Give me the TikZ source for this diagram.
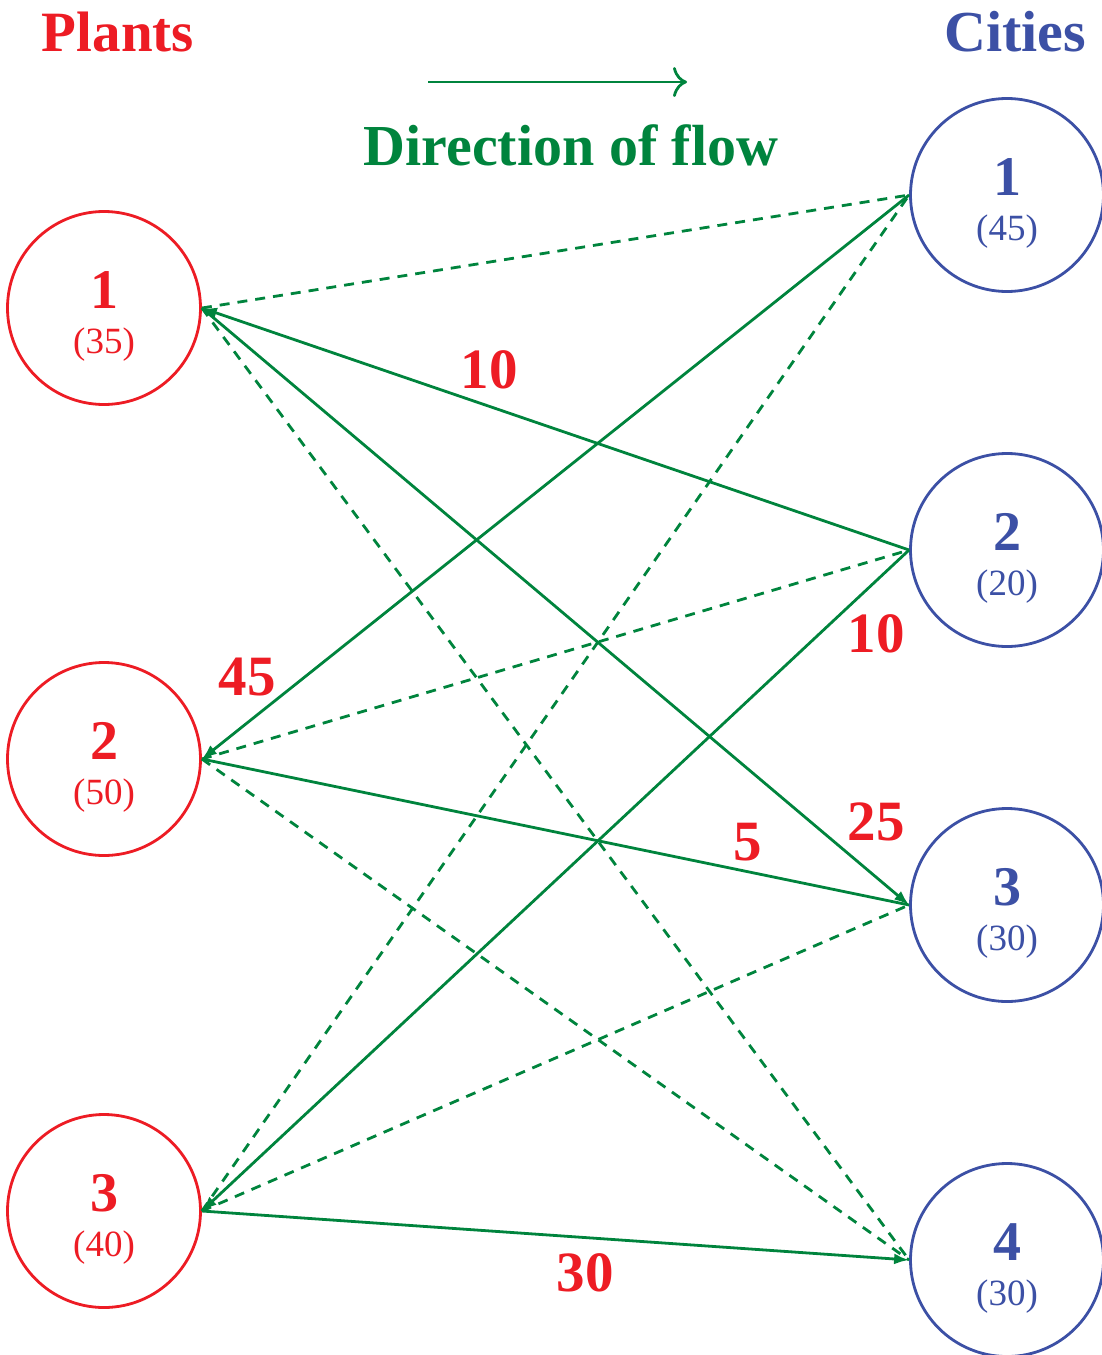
\documentclass[tikz,border=0pt]{standalone}
\usepackage{fontspec}
\setmainfont{Liberation Serif}
\usetikzlibrary{arrows.meta}
\definecolor{pred}{RGB}{237,28,36}
\definecolor{cblue}{RGB}{60,80,165}
\definecolor{fgreen}{RGB}{0,132,61}
\begin{document}
\begin{tikzpicture}[x=1pt,y=-1pt,
  plant/.style={circle,draw=pred,line width=2.8pt,minimum size=193pt,inner sep=0pt},
  city/.style={circle,draw=cblue,line width=2.8pt,minimum size=193pt,inner sep=0pt},
  num/.style={font=\bfseries\fontsize{56}{56}\selectfont},
  captxt/.style={font=\fontsize{37}{37}\selectfont},
  flow/.style={draw=fgreen,line width=2.8pt},
  dflow/.style={draw=fgreen,line width=2.8pt,dash pattern=on 10pt off 8pt},
  tip/.style={-{Latex[length=15pt,width=11pt]}},
  qty/.style={text=pred,font=\bfseries\fontsize{57}{57}\selectfont}]
\useasboundingbox (0,0) rectangle (1101,1355);
% plants
\node[plant] (p1) at (104,308) {};
\node[plant] (p2) at (104,759) {};
\node[plant] (p3) at (104,1211) {};
% cities
\node[city] (c1) at (1007,195) {};
\node[city] (c2) at (1007,550) {};
\node[city] (c3) at (1007,905) {};
\node[city] (c4) at (1007,1260) {};
% node texts
\node[num,text=pred] (p1n) at (104,290) {1};
\node[num,text=pred] (p2n) at (104,741) {2};
\node[num,text=pred] (p3n) at (104,1193) {3};
\node[captxt,text=pred] (p1c) at (104,345) {(35)};
\node[captxt,text=pred] (p2c) at (104,796) {(50)};
\node[captxt,text=pred] (p3c) at (104,1248) {(40)};
\node[num,text=cblue] (c1n) at (1007,177) {1};
\node[num,text=cblue] (c2n) at (1007,532) {2};
\node[num,text=cblue] (c3n) at (1007,887) {3};
\node[num,text=cblue] (c4n) at (1007,1242) {4};
\node[captxt,text=cblue] (c1c) at (1007,232) {(45)};
\node[captxt,text=cblue] (c2c) at (1007,587) {(20)};
\node[captxt,text=cblue] (c3c) at (1007,942) {(30)};
\node[captxt,text=cblue] (c4c) at (1007,1297) {(30)};
% titles
\node[text=pred,font=\bfseries\fontsize{57}{57}\selectfont] (tp) at (118,32) {Plants};
\node[text=cblue,font=\bfseries\fontsize{58}{58}\selectfont] (tc) at (1015,32) {Cities};
\node[text=fgreen,font=\bfseries\fontsize{58}{58}\selectfont] (tdir) at (571,145) {Direction of flow};
\coordinate (a0) at (428,82);
\coordinate (a1) at (687,82);
\draw[flow,-{To[length=14pt,width=30pt,line width=2.8pt]}] (a0) -- (a1);
% dashed routes
\draw[dflow] (p1.east) -- (c1.west);
\draw[dflow] (p1.east) -- (c4.west);
\draw[dflow] (p2.east) -- (c2.west);
\draw[dflow] (p2.east) -- (c4.west);
\draw[dflow] (p3.east) -- (c1.west);
\draw[dflow] (p3.east) -- (c3.west);
% solid routes
\draw[flow,tip] (c2.west) -- (p1.east);
\draw[flow,tip] (p1.east) -- (c3.west);
\draw[flow,tip] (c1.west) -- (p2.east);
\draw[flow] (c3.west) -- (p2.east);
\draw[flow,tip] (c2.west) -- (p3.east);
\draw[flow,tip] (p3.east) -- (c4.west);
% quantities
\node[qty] (q1) at (489,370) {10};
\node[qty] (q2) at (247,677) {45};
\node[qty] (q3) at (876,634) {10};
\node[qty] (q4) at (876,822) {25};
\node[qty] (q5) at (748,842) {5};
\node[qty] (q6) at (585,1273) {30};
\end{tikzpicture}
\end{document}
